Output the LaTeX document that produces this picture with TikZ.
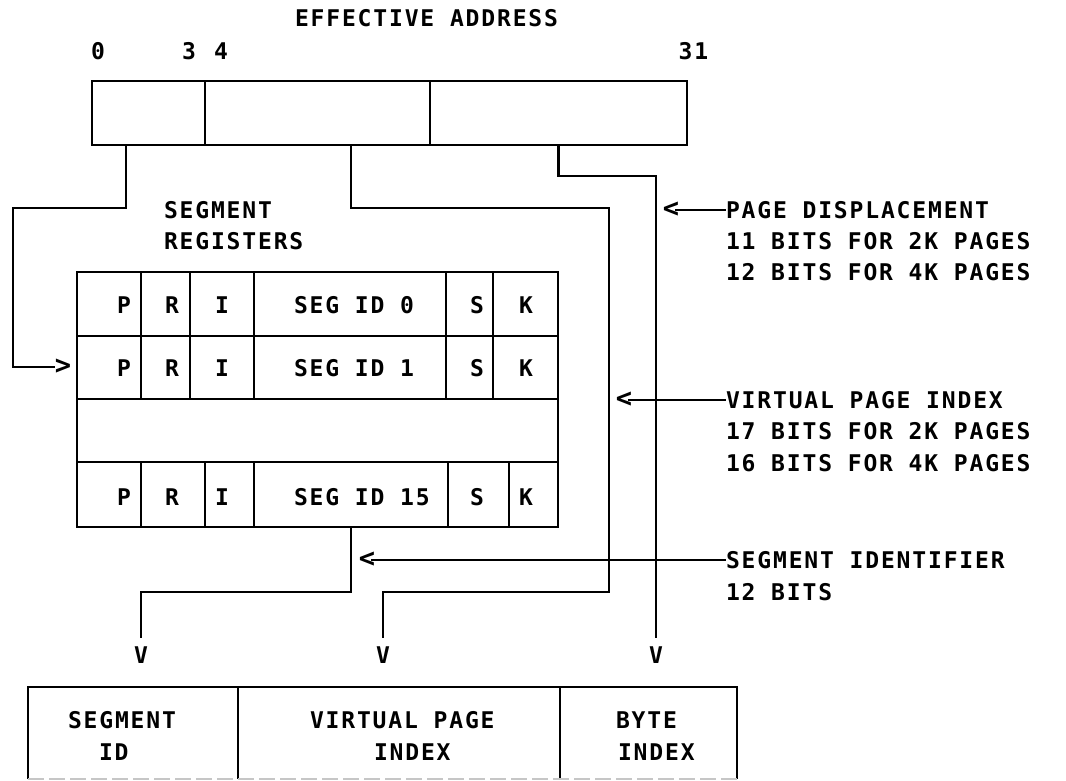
\documentclass[tikz,border=0pt]{standalone}
\usepackage{fontspec}
\setmonofont{DejaVu Sans Mono}[LetterSpace=8]
\usetikzlibrary{calc}
\begin{document}
\begin{tikzpicture}[x=1pt,y=-1pt,line width=2.8pt,
  lbl/.style={font=\ttfamily\bfseries\fontsize{23}{23}\selectfont, inner sep=0pt, outer sep=0pt},
  lw/.style={lbl, anchor=west},
  tip/.style={font=\ttfamily\bfseries\fontsize{27}{27}\selectfont, inner sep=0pt, outer sep=0pt},
  cellbox/.style={draw, rectangle, inner sep=0pt, outer sep=0pt, minimum width=#1},
  slot/.style={rectangle, inner sep=0pt, outer sep=0pt},
  tolabel/.style={shorten >=9pt},
  pointer/.style={shorten <=-4pt}]
\useasboundingbox (0,0) rectangle (1066,781);

% ---- effective address ----
\node[lw] (title) at (295,18) {EFFECTIVE ADDRESS};
\node[lbl] (bit0) at (98,51) {0};
\node[lbl] (bit3) at (189,51) {3};
\node[lbl] (bit4) at (221,51) {4};
\node[lbl] (bit31) at (693.5,51) {31};

\node[cellbox=113pt, minimum height=64pt] (ea1) at (148.5,113) {};
\node[cellbox=225pt, minimum height=64pt] (ea2) at (317.5,113) {};
\node[cellbox=257pt, minimum height=64pt] (ea3) at (558.5,113) {};

% ---- segment registers ----
\node[lw] (sgt) at (164,210) {SEGMENT};
\node[lw] (sgr) at (164,241) {REGISTERS};

\node[cellbox=481pt, minimum height=64pt] (r0) at (317.5,304) {};
\node[cellbox=481pt, minimum height=63pt] (r1) at (317.5,367.5) {};
\node[cellbox=481pt, minimum height=63pt] (r2) at (317.5,430.5) {};
\node[cellbox=481pt, minimum height=65pt] (r3) at (317.5,494.5) {};
\foreach \x in {141,190,254,446,493} \draw (\x,272) -- (\x,399);
\foreach \x in {141,205,254,448,509} \draw (\x,462) -- (\x,527);

\foreach \r/\y/\id in {0/305/0, 1/368/1, 3/497/15} {
  \node[lbl] (p\r) at (124,\y) {P};
  \node[lbl] (rr\r) at (172,\y) {R};
  \node[lbl] (ii\r) at (222,\y) {I};
  \node[lw]  (sid\r) at (294,\y) {SEG ID \id};
  \node[lbl] (ss\r) at (477,\y) {S};
  \node[lbl] (kk\r) at (526,\y) {K};
}

\node[tip] (gt) at (63,367) {>};

% ---- arrow heads (V) ----
\node[lbl] (v1) at (141,655) {V};
\node[lbl] (v2) at (383,655) {V};
\node[lbl] (v3) at (656,655) {V};

% ---- connectors ----
\coordinate (xA) at (126,0);
\coordinate (cA) at (13,208);
\draw (ea1.south -| xA) |- (cA) |- (gt.west);

\coordinate (xB) at (351,0);
\coordinate (cB1) at (609,208);
\coordinate (cB2) at (383,592);
\draw[tolabel] (ea2.south -| xB) |- (cB1) |- (cB2) -- (v2.north);

\coordinate (cC1) at (656,176);
\draw[tolabel] (ea3.south) |- (cC1) -- (v3.north);

\coordinate (cD1) at (141,592);
\draw[tolabel] (r3.south -| xB) |- (cD1) -- (v1.north);

% ---- right-hand labels ----
\node[lw] (pd1) at (726,210) {PAGE DISPLACEMENT};
\node[lw] (pd2) at (726,241) {11 BITS FOR 2K PAGES};
\node[lw] (pd3) at (726,272) {12 BITS FOR 4K PAGES};
\node[tip] (lpd) at (671,210) {<};
\draw[pointer] (lpd.east) -- (pd1.west);

\node[lw] (vp1) at (726,400) {VIRTUAL PAGE INDEX};
\node[lw] (vp2) at (726,431.5) {17 BITS FOR 2K PAGES};
\node[lw] (vp3) at (726,463) {16 BITS FOR 4K PAGES};
\node[tip] (lvp) at (624,400) {<};
\draw[pointer] (lvp.east) -- (vp1.west);

\node[lw] (si1) at (726,560) {SEGMENT IDENTIFIER};
\node[lw] (si2) at (726,592) {12 BITS};
\node[tip] (lsi) at (367,560) {<};
\draw[pointer] (lsi.east) -- (si1.west);

% ---- virtual address ----
\node[slot, minimum width=210pt, minimum height=92pt] (bx1) at (133,733) {};
\node[slot, minimum width=322pt, minimum height=92pt] (bx2) at (399,733) {};
\node[slot, minimum width=177pt, minimum height=92pt] (bx3) at (648.5,733) {};
\draw (bx1.south west) -- (bx1.north west) -- (bx3.north east) -- (bx3.south east);
\draw (bx2.north west) -- (bx2.south west);
\draw (bx3.north west) -- (bx3.south west);
\draw[gray!45, line width=1.6pt, dash pattern=on 16pt off 5pt] (bx1.south west) -- (bx3.south east);

\node[lw] (t1a) at (68,720) {SEGMENT};
\node[lw] (t1b) at (99,752) {ID};
\node[lw] (t2a) at (310,720) {VIRTUAL PAGE};
\node[lw] (t2b) at (374,752) {INDEX};
\node[lw] (t3a) at (616,720) {BYTE};
\node[lw] (t3b) at (618,752) {INDEX};
\end{tikzpicture}
\end{document}
